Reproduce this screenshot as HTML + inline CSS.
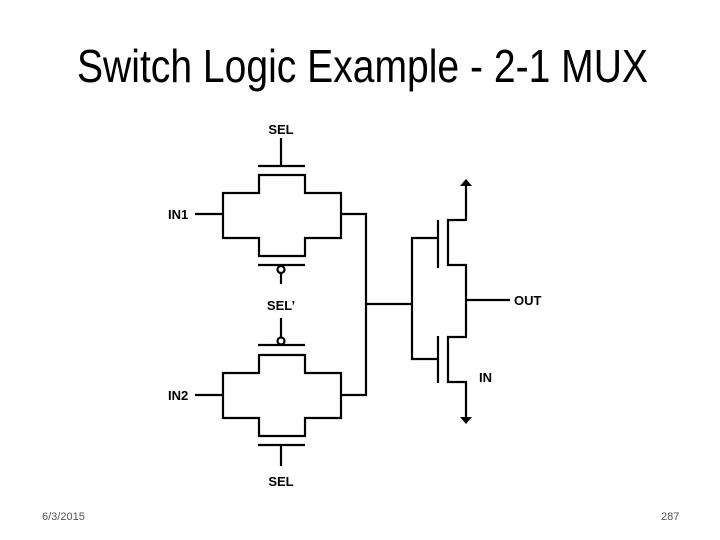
<!DOCTYPE html>
<html><head><style>
html,body{margin:0;padding:0;background:#fff;}
svg{display:block;}
</style></head><body>
<svg width="720" height="540" viewBox="0 0 720 540" xmlns="http://www.w3.org/2000/svg">
<rect width="720" height="540" fill="#fff"/>
<text x="77" y="82" font-family="Liberation Sans, sans-serif" font-size="46" textLength="571" lengthAdjust="spacingAndGlyphs" fill="#000">Switch Logic Example - 2-1 MUX</text>
<g fill="none" stroke="#000" stroke-width="2.2">
<!-- top TG -->
<line x1="281" y1="138" x2="281" y2="166"/>
<line x1="258" y1="166" x2="305" y2="166"/>
<path d="M223 193 H259 V175 H305 V193 H341 V238 H305 V256 H259 V238 H223 Z"/>
<line x1="258" y1="265" x2="305" y2="265"/>
<circle cx="281" cy="269.5" r="3.5"/>
<line x1="281" y1="273" x2="281" y2="284"/>
<line x1="195" y1="214" x2="223" y2="214"/>
<path d="M341 214 H366 V395 H341"/>
<!-- bottom TG -->
<line x1="281" y1="318" x2="281" y2="337"/>
<circle cx="281" cy="341" r="3.5"/>
<line x1="258" y1="345" x2="305" y2="345"/>
<path d="M223 373 H259 V355 H305 V373 H341 V418 H305 V436 H259 V418 H223 Z"/>
<line x1="258" y1="445" x2="305" y2="445"/>
<line x1="281" y1="445" x2="281" y2="466"/>
<line x1="195" y1="395" x2="223" y2="395"/>
<!-- inverter -->
<line x1="366" y1="304" x2="412" y2="304"/>
<path d="M438 238 H412 V359 H438"/>
<line x1="438" y1="220" x2="438" y2="268"/>
<line x1="438" y1="336" x2="438" y2="383"/>
<path d="M466 186 V220 H448 V265 H466 V337 H448 V382 H466 V418"/>
<line x1="466" y1="300" x2="510" y2="300"/>
</g>
<polygon points="466,179 460,186 472,186" fill="#000"/>
<polygon points="466,424 460,417 472,417" fill="#000"/>
<g font-family="Liberation Sans, sans-serif" font-weight="bold" font-size="13" fill="#000">
<text x="281" y="134" text-anchor="middle">SEL</text>
<text x="168" y="219">IN1</text>
<text x="281" y="310" text-anchor="middle">SEL’</text>
<text x="168" y="400">IN2</text>
<text x="281" y="486" text-anchor="middle">SEL</text>
<text x="514" y="305">OUT</text>
<text x="479" y="382">IN</text>
</g>
<text x="42" y="520" font-family="Liberation Sans, sans-serif" font-size="11" fill="#555">6/3/2015</text>
<text x="661" y="520" font-family="Liberation Sans, sans-serif" font-size="11" fill="#555">287</text>
</svg>
</body></html>
